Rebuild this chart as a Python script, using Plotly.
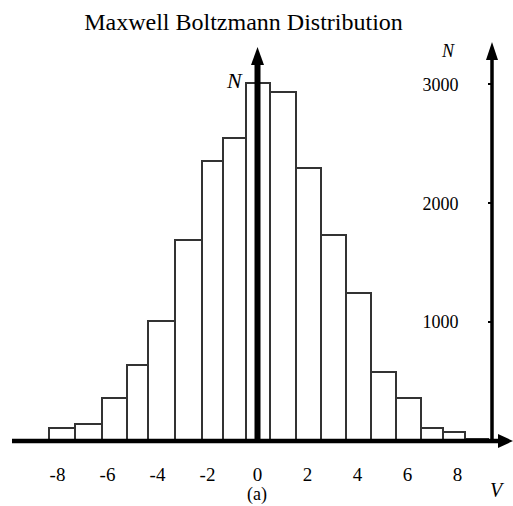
import plotly.graph_objects as go

# ---- data ----
bin_edges = [-8.34, -7.30, -6.22, -5.22, -4.38, -3.30, -2.22, -1.38, -0.46, 0.50,
             1.54, 2.54, 3.54, 4.54, 5.54, 6.54, 7.42, 8.30, 9.22]
counts = [109, 143, 362, 639, 1009, 1690, 2355, 2548, 3011, 2935,
          2296, 1733, 1245, 580, 362, 109, 76, 20]
x_tick_vals = [-8, -6, -4, -2, 0, 2, 4, 6, 8]
x_tick_labels = ["-8", "-6", "-4", "-2", "0", "2", "4", "6", "8"]
y_tick_vals = [1000, 2000, 3000]
y_tick_labels = ["1000", "2000", "3000"]
title_text = "Maxwell Boltzmann Distribution"

centers = [(a + b) / 2 for a, b in zip(bin_edges[:-1], bin_edges[1:])]
widths = [b - a for a, b in zip(bin_edges[:-1], bin_edges[1:])]

W, H = 513, 506
L, R, T, B = 0, 0, 0, 65
PW, PH = W - L - R, H - T - B
SERIF = "Liberation Serif, Times New Roman, serif"


def px(xp):
    return (xp - L) / PW


def py(yp):
    return (H - B - yp) / PH


fig = go.Figure()
fig.add_trace(go.Bar(
    x=centers, y=counts, width=widths,
    marker=dict(color="white", line=dict(color="#333333", width=2)),
    showlegend=False, hoverinfo="skip",
))

shapes = []
# x axis thick line + arrow head
shapes.append(dict(type="line", xref="paper", yref="paper", x0=px(12), x1=px(503),
                   y0=py(441), y1=py(441), line=dict(color="black", width=4.5)))
shapes.append(dict(type="path", xref="paper", yref="paper",
                   path=f"M {px(513)},{py(441)} L {px(498)},{py(434)} L {px(498)},{py(448)} Z",
                   fillcolor="black", line=dict(color="black", width=0)))
# central vertical arrow
shapes.append(dict(type="line", xref="paper", yref="paper", x0=px(257.5), x1=px(257.5),
                   y0=py(441), y1=py(62), line=dict(color="black", width=6)))
shapes.append(dict(type="path", xref="paper", yref="paper",
                   path=f"M {px(257.5)},{py(47)} L {px(251)},{py(65)} L {px(264)},{py(65)} Z",
                   fillcolor="black", line=dict(color="black", width=0)))
# right vertical axis arrow
shapes.append(dict(type="line", xref="paper", yref="paper", x0=px(492), x1=px(492),
                   y0=py(441), y1=py(56), line=dict(color="black", width=3.5)))
shapes.append(dict(type="path", xref="paper", yref="paper",
                   path=f"M {px(492)},{py(42)} L {px(486)},{py(60)} L {px(498)},{py(60)} Z",
                   fillcolor="black", line=dict(color="black", width=0)))


def label(text, xp, yp, size):
    return dict(text=text, x=px(xp), y=py(yp), xref="paper", yref="paper",
                xanchor="center", yanchor="middle", showarrow=False,
                font=dict(family=SERIF, size=size, color="black"))


annotations = [
    label("<i>N</i>", 234, 80, 22),
    label("<i>N</i>", 448, 51, 18),
    label("<i>V</i>", 497, 490, 20),
    label("(a)", 257, 494, 18),
]

fig.update_layout(
    width=W, height=H,
    margin=dict(l=L, r=R, t=T, b=B, pad=0),
    paper_bgcolor="white", plot_bgcolor="white",
    title=dict(text=title_text, x=243.5 / W, y=1 - 22 / H, xref="container", yref="container",
               xanchor="center", yanchor="middle",
               font=dict(family=SERIF, size=24, color="black")),
    bargap=0,
    xaxis=dict(range=[(L - 257.5) / 25, (W - R - 257.5) / 25], tickvals=x_tick_vals,
               ticktext=x_tick_labels, showgrid=False, zeroline=False, showline=False,
               ticks="", ticklabelstandoff=20, automargin=False,
               tickfont=dict(family=SERIF, size=19, color="black")),
    yaxis=dict(range=[0, PH / 0.1189], tickvals=y_tick_vals, ticktext=y_tick_labels,
               anchor="free", position=px(492), side="left", showgrid=False,
               zeroline=False, showline=False, ticks="outside", ticklen=4, tickwidth=2,
               tickcolor="black", ticklabelstandoff=26, automargin=False,
               tickfont=dict(family=SERIF, size=18, color="black")),
    shapes=shapes, annotations=annotations,
)

fig.write_html("out.html", config={"displayModeBar": False},
               post_script="document.body.style.margin='0';document.body.style.overflow='hidden';")
